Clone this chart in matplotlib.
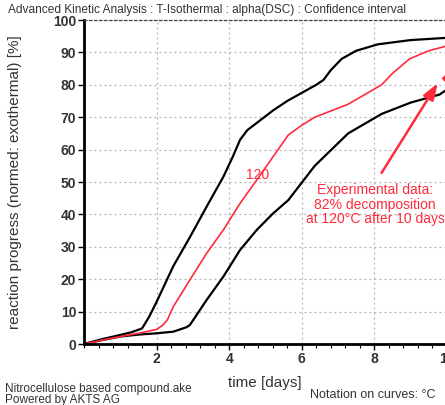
import numpy as np
import matplotlib
matplotlib.use("Agg")
import matplotlib.pyplot as plt
from matplotlib.ticker import MultipleLocator

plt.rcParams['font.family'] = ['Liberation Sans', 'DejaVu Sans']

# upper confidence bound
t_upper = [0, 0.5, 1.0, 1.3, 1.6, 1.8, 2.0, 2.46, 2.92, 3.38, 3.84, 4.1, 4.3, 4.5,
           4.85, 5.2, 5.6, 6.0, 6.4, 6.6, 6.8, 7.1, 7.5, 8.1, 9.0, 10.0, 10.5]
a_upper = [0, 1.5, 2.8, 3.6, 4.8, 8.5, 13, 24, 33, 42.4, 51.6, 57.8, 63, 66,
           69, 72, 75, 77.5, 80, 81.5, 84.5, 88, 90.5, 92.5, 93.8, 94.5, 94.7]

# prediction at 120 C
t_mid = [0, 0.5, 1.0, 1.5, 2.0, 2.18, 2.3, 2.46, 2.92, 3.38, 3.84, 4.3, 4.76,
         5.21, 5.63, 6.0, 6.36, 7.28, 8.2, 8.5, 8.97, 9.5, 10.0, 10.5]
a_mid = [0, 1.2, 2.3, 3.3, 4.5, 5.9, 7.5, 11.5, 19.8, 28, 35.2, 43.4, 50.6,
         57.8, 64.5, 67.5, 70, 74, 80, 83.5, 88, 90.5, 92, 93]

# lower confidence bound
t_lower = [0, 0.5, 1.0, 1.5, 2.0, 2.46, 2.83, 2.92, 3.38, 3.84, 4.3, 4.76, 5.21,
           5.63, 6.36, 7.28, 8.2, 9.0, 9.8, 10.0, 10.5]
a_lower = [0, 1.2, 2.3, 2.9, 3.3, 3.8, 5.2, 5.9, 13.6, 20.8, 29, 35.2, 40.3,
           44.4, 55, 65, 71, 74.5, 77, 78.5, 80]

# measured point
exp_t = 10
exp_a = 82

curve_label = "120"
RED = '#ff2b3c'
GREY = '#333333'

fig = plt.figure(figsize=(4.45, 4.05), dpi=100)
ax = fig.add_axes([84 / 445, 61 / 405, 381 / 445, 324 / 405])

ax.plot(t_upper, a_upper, color='black', lw=1.6)
ax.plot(t_lower, a_lower, color='black', lw=1.6)
ax.plot(t_mid, a_mid, color=RED, lw=1.2)
ax.plot([exp_t], [exp_a], marker='D', color=RED, ms=5, clip_on=False)

ax.text(4.79, 52.2, curve_label, color=RED, fontsize=10, ha='center', va='center')

# arrow pointing at the measured point
ax.annotate("", xy=(9.75, 80.5), xytext=(8.2, 52.8),
            arrowprops=dict(arrowstyle='-|>,head_length=1.0,head_width=0.35',
                            color=RED, lw=1.8, shrinkA=0, shrinkB=0))
ax.text(8.02, 49.6, "Experimental data:\n82% decomposition\nat 120\u00b0C after 10 days",
        color=RED, fontsize=10, ha='center', va='top', linespacing=1.05)

ax.set_xlim(0, 10.5)
ax.set_ylim(0, 100)
ax.set_xticks([2, 4, 6, 8, 10])
ax.xaxis.set_minor_locator(MultipleLocator(0.4))
ax.yaxis.set_major_locator(MultipleLocator(10))

ax.grid(True, which='major', color='#b0b0b0', linestyle=(0, (1.5, 2.5)), lw=0.9)
ax.tick_params(axis='both', which='major', length=4, width=1, pad=1.5,
               labelsize=10, labelcolor=GREY)
ax.tick_params(axis='x', which='minor', length=3, width=0.8)
for lab in ax.get_xticklabels() + ax.get_yticklabels():
    lab.set_fontweight('bold')

for side in ('left', 'bottom'):
    ax.spines[side].set_linewidth(2)
ax.spines['right'].set_visible(False)
ax.spines['top'].set_linestyle((0, (2, 2)))
ax.spines['top'].set_linewidth(0.9)
ax.spines['top'].set_color('#444444')

ax.set_xlabel("time [days]", fontsize=11, color=GREY)
ax.xaxis.set_label_coords((265 - 84) / 381, -(383 - 344) / 324)
ax.set_ylabel("reaction progress (normed: exothermal) [%]", fontsize=11, color=GREY)
ax.yaxis.set_label_coords((15 - 84) / 381, 0.5)
ax.yaxis.label.set_va('center')
ax.xaxis.label.set_va('center')

fig.text(8 / 445, 1 - 10 / 405,
         "Advanced Kinetic Analysis : T-Isothermal : alpha(DSC) : Confidence interval",
         fontsize=8.6, color=GREY, va='center', ha='left')
fig.text(5 / 445, 1 - 389 / 405, "Nitrocellulose based compound.ake",
         fontsize=8.5, color=GREY, va='center')
fig.text(5 / 445, 1 - 400 / 405, "Powered by AKTS AG",
         fontsize=8.5, color=GREY, va='center')
fig.text(310 / 445, 1 - 395 / 405, "Notation on curves: \u00b0C",
         fontsize=9, color=GREY, va='center')

fig.savefig("out.png", dpi=100)
